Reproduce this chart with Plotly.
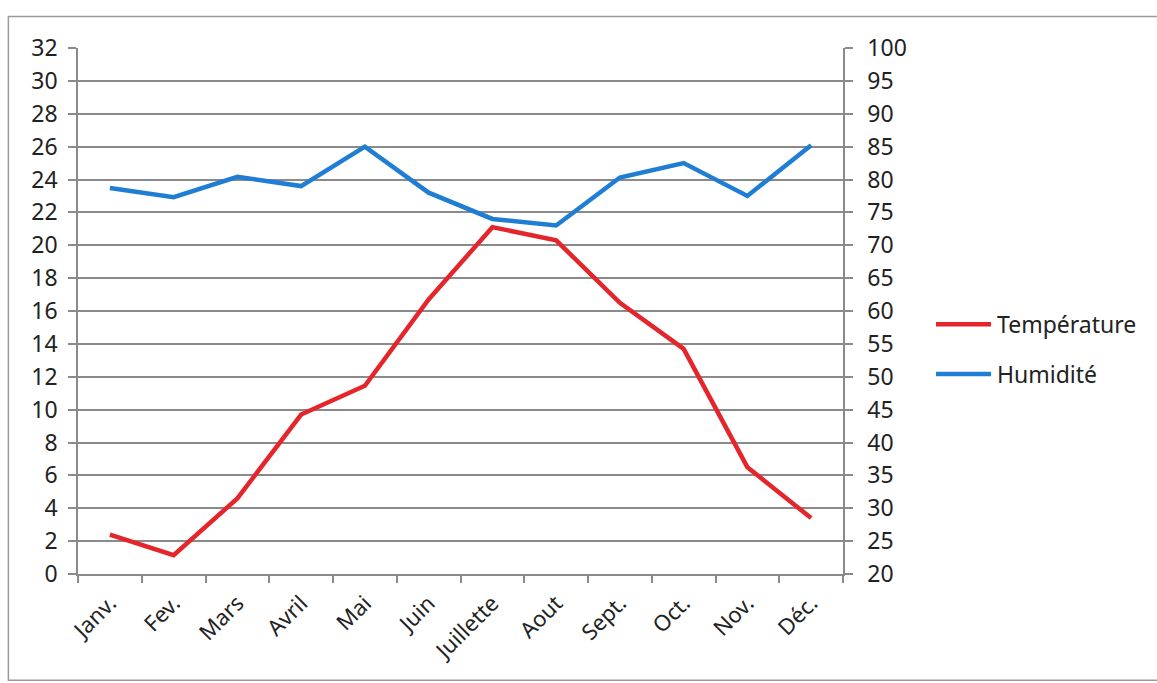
import plotly.graph_objects as go

# Monthly climate figures
mois = ["Janv.", "Fev.", "Mars", "Avril", "Mai", "Juin", "Juillette",
        "Aout", "Sept.", "Oct.", "Nov.", "Déc."]
temperature = [2.4, 1.15, 4.6, 9.7, 11.45, 16.7, 21.1, 20.3, 16.5, 13.7, 6.5, 3.4]
humidite = [78.7, 77.3, 80.4, 79.0, 85.0, 78.0, 74.0, 73.0, 80.3, 82.5, 77.5, 85.2]

temp_ticks = list(range(0, 33, 2))
hum_ticks = list(range(20, 101, 5))

series_names = ["Température", "Humidité"]

ROUGE = "#E4252B"
BLEU = "#1F7ED4"
GRILLE = "#8A8A8A"
TEXTE = "#222222"
FONT = "Noto Sans"

fig = go.Figure()
fig.add_trace(go.Scatter(
    x=mois, y=temperature, name=series_names[0], mode="lines",
    line=dict(color=ROUGE, width=4.5), yaxis="y"))
fig.add_trace(go.Scatter(
    x=mois, y=humidite, name=series_names[1], mode="lines",
    line=dict(color=BLEU, width=4.5), yaxis="y2"))

# Legend drawn beside the plot: a long sample line followed by the label
legend_rows = [(series_names[0], ROUGE, 0.475), (series_names[1], BLEU, 0.38)]
shapes = [dict(
    type="rect", xref="paper", yref="paper",
    x0=-0.091, x1=1.42, y0=-0.202, y1=1.06,
    line=dict(color="#9A9A9A", width=1.5), fillcolor="rgba(0,0,0,0)",
    layer="below",
)]
annotations = []
for label, color, yy in legend_rows:
    shapes.append(dict(type="line", xref="paper", yref="paper",
                       x0=1.1216, x1=1.1935, y0=yy, y1=yy,
                       line=dict(color=color, width=4.5)))
    annotations.append(dict(xref="paper", yref="paper", x=1.1987, y=yy,
                            xanchor="left", yanchor="middle", text=label,
                            showarrow=False,
                            font=dict(family=FONT, size=23, color=TEXTE)))

fig.update_layout(
    width=1157, height=683,
    margin=dict(l=78, r=314, t=48, b=109),
    paper_bgcolor="white", plot_bgcolor="white",
    font=dict(family=FONT, size=22, color=TEXTE),
    showlegend=False,
    xaxis=dict(
        type="category", categoryorder="array", categoryarray=mois,
        range=[-0.5, 11.5], tickson="boundaries",
        ticks="outside", ticklen=7, tickcolor=GRILLE, tickwidth=1.5,
        showgrid=False, showline=True, linecolor=GRILLE, linewidth=1.5,
        tickangle=-45, ticklabelstandoff=6,
        tickfont=dict(family=FONT, size=22),
    ),
    yaxis=dict(
        range=[0, 32], tickvals=temp_ticks,
        ticks="outside", ticklen=8, tickcolor=GRILLE, tickwidth=1.5,
        showgrid=True, gridcolor=GRILLE, gridwidth=1.5,
        showline=True, linecolor=GRILLE, linewidth=1.5,
        zeroline=False, ticklabelstandoff=6,
        tickfont=dict(family=FONT, size=23),
    ),
    yaxis2=dict(
        range=[20, 100], tickvals=hum_ticks, overlaying="y", side="right",
        ticks="outside", ticklen=8, tickcolor=GRILLE, tickwidth=1.5,
        showgrid=False, showline=True, linecolor=GRILLE, linewidth=1.5,
        zeroline=False, ticklabelstandoff=10,
        tickfont=dict(family=FONT, size=23),
    ),
    shapes=shapes,
    annotations=annotations,
)

fig.write_html("out.html")
